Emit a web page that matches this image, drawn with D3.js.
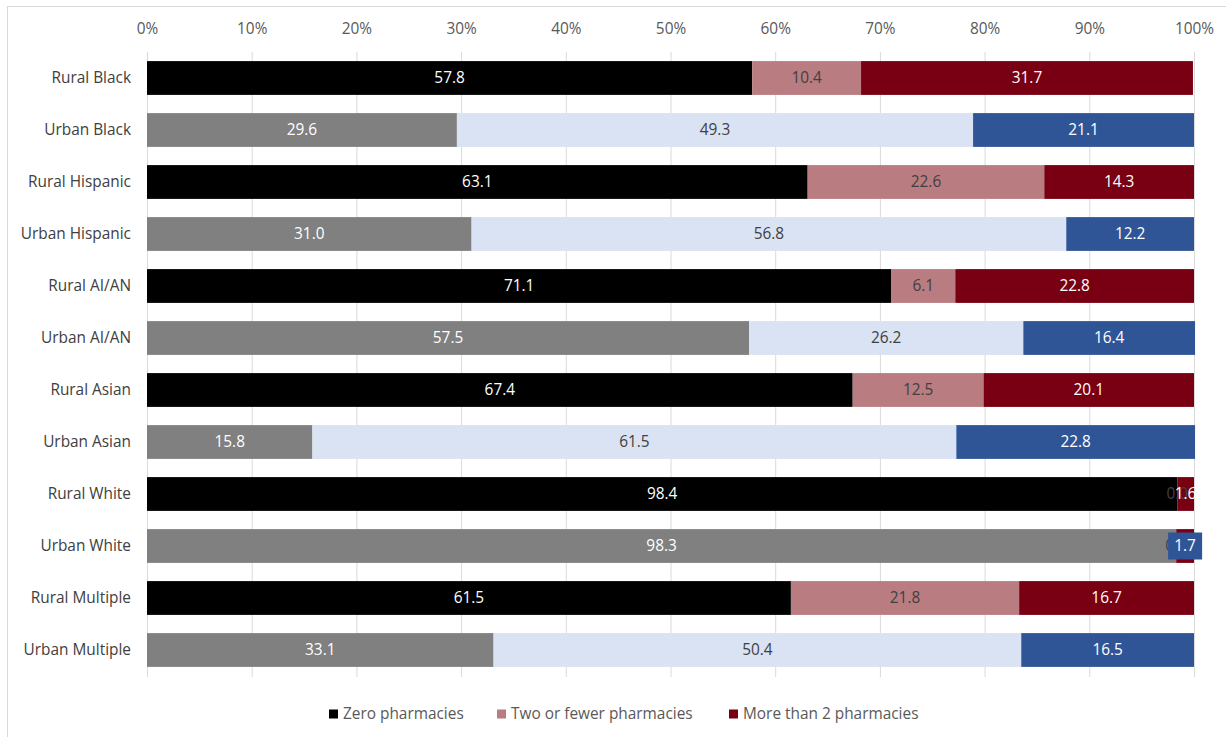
<!DOCTYPE html>
<html>
<head>
<meta charset="utf-8">
<script src="https://cdn.jsdelivr.net/npm/d3@7"></script>
<style>
  body { margin: 0; background: #fff; }
  text { font-family: "Open Sans", sans-serif; }
</style>
</head>
<body>
<script>
var categories = ["Rural Black", "Urban Black", "Rural Hispanic", "Urban Hispanic",
  "Rural AI/AN", "Urban AI/AN", "Rural Asian", "Urban Asian",
  "Rural White", "Urban White", "Rural Multiple", "Urban Multiple"];
var zeroPharm = [57.8, 29.6, 63.1, 31.0, 71.1, 57.5, 67.4, 15.8, 98.4, 98.3, 61.5, 33.1];
var twoOrFewer = [10.4, 49.3, 22.6, 56.8, 6.1, 26.2, 12.5, 61.5, 0.0, 0.0, 21.8, 50.4];
var moreThan2 = [31.7, 21.1, 14.3, 12.2, 22.8, 16.4, 20.1, 22.8, 1.6, 1.7, 16.7, 16.5];
var seriesNames = ["Zero pharmacies", "Two or fewer pharmacies", "More than 2 pharmacies"];
var ticks = [0, 10, 20, 30, 40, 50, 60, 70, 80, 90, 100];

var W = 1226, H = 737;
var FS = "15.4px";
var ruralColors = ["#000000", "#b97c80", "#780012"];
var urbanColors = ["#808080", "#dae3f3", "#2f5597"];
var labelColors = ["#ffffff", "#404040", "#ffffff"];

var svg = d3.select("body").append("svg").attr("width", W).attr("height", H);

svg.append("rect")
  .attr("x", 7.5).attr("y", 6.5)
  .attr("width", W).attr("height", H)
  .attr("fill", "none").attr("stroke", "#d9d9d9");

var x = d3.scaleLinear().domain([0, 100]).range([147, 1194]);
var y = d3.scaleBand().domain(categories).range([52, 676]).paddingInner(0.35).paddingOuter(0.175);

// gridlines
svg.append("g").selectAll("line").data(ticks).enter().append("line")
  .attr("x1", function(d) { return x(d) + 0.5; })
  .attr("x2", function(d) { return x(d) + 0.5; })
  .attr("y1", 52).attr("y2", 677)
  .attr("stroke", "#d9d9d9").attr("stroke-width", 1);

// top axis labels
var xAxis = svg.append("g").attr("transform", "translate(0,38)")
  .call(d3.axisTop(x).tickValues(ticks).tickFormat(function(d) { return d + "%"; }).tickSize(0).tickPadding(4));
xAxis.select(".domain").remove();
xAxis.selectAll("text").attr("fill", "#595959").style("font-size", FS);

// category labels
var yAxis = svg.append("g").attr("transform", "translate(131,0)")
  .call(d3.axisLeft(y).tickSize(0).tickPadding(0));
yAxis.select(".domain").remove();
yAxis.selectAll("text").attr("fill", "#404040").style("font-size", FS);

var rows = categories.map(function(c, i) {
  return { cat: c, vals: [zeroPharm[i], twoOrFewer[i], moreThan2[i]] };
});

var segs = [];
rows.forEach(function(r) {
  var urban = r.cat.indexOf("Urban") === 0;
  var start = 0;
  r.vals.forEach(function(v, k) {
    var col = urban ? urbanColors[k] : ruralColors[k];
    // the end segment of Urban White shows in dark red in the original
    if (r.cat === "Urban White" && k === 2) col = ruralColors[2];
    segs.push({ cat: r.cat, k: k, x0: start, x1: start + v, v: v, color: col, urban: urban });
    start += v;
  });
});

svg.append("g").selectAll("rect").data(segs).enter().append("rect")
  .attr("x", function(d) { return x(d.x0); })
  .attr("width", function(d) { return x(d.x1) - x(d.x0); })
  .attr("y", function(d) { return y(d.cat); })
  .attr("height", y.bandwidth())
  .attr("fill", function(d) { return d.color; });

var lab = svg.append("g");
segs.forEach(function(d) {
  var cx = (x(d.x0) + x(d.x1)) / 2;
  var cy = y(d.cat) + y.bandwidth() / 2;
  if (d.urban && d.k === 2) {
    lab.append("rect")
      .attr("x", cx - 17).attr("y", cy - 13.5)
      .attr("width", 34).attr("height", 27)
      .attr("fill", urbanColors[2]);
  }
  lab.append("text")
    .attr("x", cx).attr("y", cy)
    .attr("text-anchor", "middle").attr("dy", "0.35em")
    .attr("fill", labelColors[d.k])
    .style("font-size", FS)
    .text(d.v.toFixed(1));
});

// legend
var legend = svg.append("g").attr("transform", "translate(0,714)");
var lx = [329, 497, 729];
seriesNames.forEach(function(n, i) {
  legend.append("rect").attr("x", lx[i]).attr("y", -4.5).attr("width", 9).attr("height", 9)
    .attr("fill", ruralColors[i]);
  legend.append("text").attr("x", lx[i] + 14).attr("y", 0).attr("dy", "0.35em")
    .attr("fill", "#595959").style("font-size", FS).text(n);
});
</script>
</body>
</html>
